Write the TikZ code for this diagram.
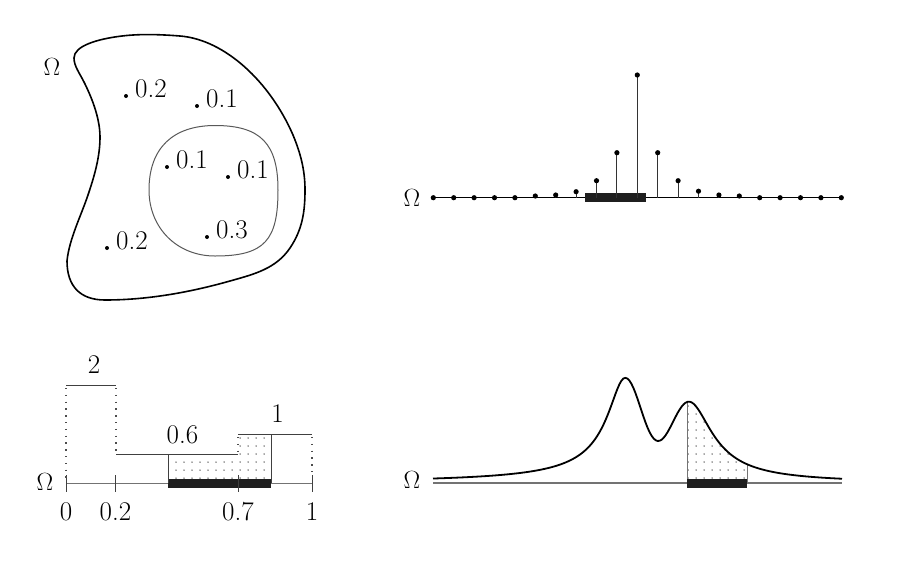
\documentclass[tikz,border=0pt]{standalone}
\usetikzlibrary{patterns.meta}
\begin{document}
\begin{tikzpicture}[x=1pt,y=-1pt,font=\fontsize{27}{32}\selectfont,
  lbl/.style={inner sep=0pt,anchor=base west},
  cl/.style={inner sep=0pt,anchor=base},
  dotfill/.style={pattern={Dots[distance=8pt,radius=0.75pt]},pattern color=black!70},
  dotline/.style={draw=black!70,line width=1.3pt,dash pattern=on 1.3pt off 5.5pt},
  stepline/.style={draw=black!75,line width=1pt},
  axisg/.style={draw=black!55,line width=1pt},
  bar/.style={draw=black!88,line width=8.5pt},
  declare function={
    pa(\t)=(\t<625)*105/(1+((\t-625)/17.9)^2)^0.65+(\t>=625)*105*exp(-min(((\t-625)/25)^2,12));
    pb(\t)=(\t<689)*81.5*exp(-min(((\t-689)/28)^2,12))+(\t>=689)*81.5/(1+((\t-689)/25.6)^2)^0.8;
    hc(\t)=483.3-pa(\t)-pb(\t);
  }]
\useasboundingbox[fill=white] (0,0) rectangle (908,566);

% ---------------- panel 1 ----------------
\node[cl] (om1) at (52,75) {$\Omega$};
\draw[line width=1.6pt] (74,58)
  .. controls (74,46) and (97,39) .. (122,36)
  .. controls (141,33.7) and (161,34.5) .. (180,36)
  .. controls (225,39.6) and (270,82) .. (293,135)
  .. controls (300.6,153.4) and (305,170) .. (305,190)
  .. controls (305,212) and (302.3,229.7) .. (290,248)
  .. controls (276,268.75) and (254,274.25) .. (230,281)
  .. controls (186.8,293.2) and (145,300) .. (105,300)
  .. controls (80,300) and (67,286) .. (67,261)
  .. controls (69.2,239) and (81,215.9) .. (88,195)
  .. controls (94.4,176) and (100,157) .. (100,137)
  .. controls (100,117) and (90.75,95.5) .. (84,82)
  .. controls (79.5,73) and (74,66) .. cycle;
\draw[line width=1pt,black!65] (149,190)
  .. controls (149,148) and (173,125.5) .. (215,125.5)
  .. controls (261,125.5) and (278,144) .. (278,190)
  .. controls (278,240) and (265,256) .. (215,256)
  .. controls (177,256) and (149,228) .. cycle;
\foreach \x/\y/\t in {126/96/0.2, 197/106/0.1, 167/167/0.1, 228/177/0.1, 207/237/0.3, 107/248/0.2}{
  \fill (\x,\y) circle (2pt);
  \node[lbl] at (\x+9,\y+1.5) {\t};
}

% ---------------- panel 2 ----------------
\node[cl] (om2) at (412,206) {$\Omega$};
\coordinate (a2l) at (433.3,197.7);
\coordinate (a2r) at (841.5,197.7);
\draw[line width=1pt] (a2l) -- (a2r);
\draw[bar,line width=9pt] (585,197.7) -- (646,197.7);
\foreach \i/\h in {0/0,1/0,2/0,3/0,4/0,5/1.7,6/2.7,7/6,8/17,9/45,10/122.7,11/45,12/17,13/6.5,14/2.7,15/1.7,16/0,17/0,18/0,19/0,20/0}{
  \draw[line width=1pt,black!80] (433.3+20.4*\i,197.7) -- (433.3+20.4*\i,197.7-\h);
  \fill (433.3+20.4*\i,197.7-\h) circle (2.6pt);
}

% ---------------- panel 3 ----------------
\node[cl] (om3) at (45,490) {$\Omega$};
\fill[dotfill] (168,454) rectangle (238,483);
\fill[dotfill] (238,434.3) rectangle (271,483);
\draw[axisg] (66,483.3) -- (312,483.3);
\draw[bar] (168,483.3) -- (271,483.3);
\foreach \x/\t in {66/0, 115.5/0.2, 238/0.7, 312/1}{
  \draw[line width=1pt,black!75] (\x,475) -- (\x,492);
  \node[cl] at (\x,520) {\t};
}
\draw[stepline] (66,385) -- (116,385);
\draw[stepline] (116,454) -- (238,454);
\draw[stepline] (238,434.3) -- (312,434.3);
\draw[dotline] (66,388) -- (66,481);
\draw[dotline] (116,388) -- (116,452);
\draw[dotline] (238,437) -- (238,452);
\draw[dotline] (312,437) -- (312,476);
\draw[stepline] (168,454) -- (168,483);
\draw[stepline] (271,434.3) -- (271,483);
\node[cl] (l2) at (94,373.5) {2};
\node[cl] (l06) at (182.5,443.5) {0.6};
\node[cl] (l1) at (277.5,422) {1};

% ---------------- panel 4 ----------------
\node[cl] (om4) at (412,488) {$\Omega$};
\begin{scope}
  \clip (687,360) rectangle (747,483.3);
  \fill[dotfill] plot[domain=680:755,samples=40] (\x,{hc(\x)}) -- (755,483.3) -- (680,483.3) -- cycle;
\end{scope}
\draw[line width=1pt,black!55] (687,483.3) -- (687,{hc(687)});
\draw[line width=1pt,black!55] (747,483.3) -- (747,{hc(747)});
\draw[black!55,line width=1.7pt] (433,483.3) -- (842,483.3);
\draw[line width=1.8pt,line join=round] plot[domain=433:842,samples=205] (\x,{hc(\x)});
\draw[bar,line width=9pt] (687,483) -- (747,483);
\end{tikzpicture}
\end{document}
